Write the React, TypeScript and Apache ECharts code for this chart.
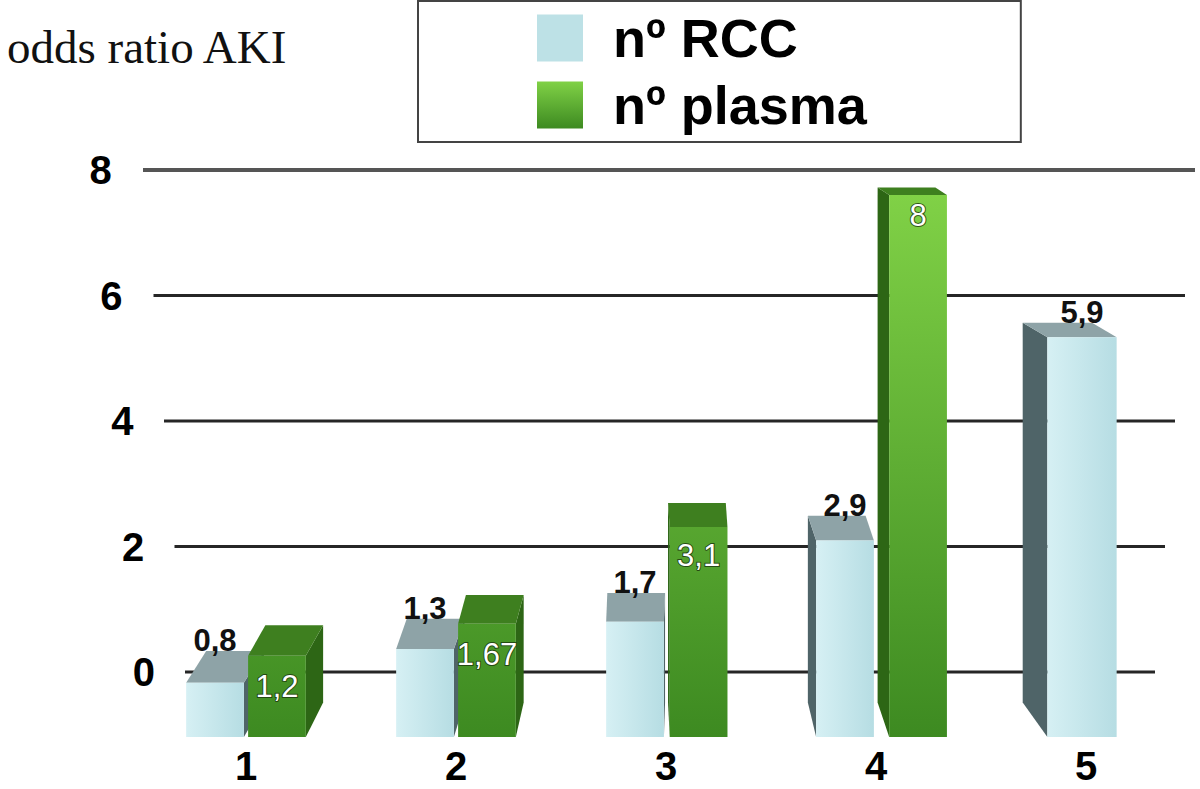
import React, { useEffect, useRef } from "react";
import * as echarts from "echarts";

const categories = ["1", "2", "3", "4", "5"];
const rccValues = [0.8, 1.3, 1.7, 2.9, 5.9];
const plasmaValues: (number | null)[] = [1.2, 1.67, 3.1, 8, null];
const yTicks = [0, 2, 4, 6, 8];
const seriesNames = ["nº RCC", "nº plasma"];
const yMin = 0;
const yMax = 8;
const yInterval = 2;
const titleText = "odds ratio AKI";

const fmt = (v: number) => String(v).replace(".", ",");

const SANS = '"Liberation Sans", Arial, Helvetica, sans-serif';
const SERIF = '"Liberation Serif", "Times New Roman", serif';

export default function App() {
  const ref = useRef<HTMLDivElement>(null);

  useEffect(() => {
    if (!ref.current) return;
    const chart = echarts.init(ref.current, null, { renderer: "svg" });

    const greenGlobal = (y0: number, y1: number) =>
      new echarts.graphic.LinearGradient(
        0, y0, 0, y1,
        [
          { offset: 0, color: "#80d146" },
          { offset: 1, color: "#3d8a21" },
        ],
        true
      );

    const makeBar = (isRcc: boolean) => (params: any, api: any) => {
      const i = api.value(0);
      const v = api.value(1);
      const top = api.coord([i, v]);
      const base = api.coord([i, 0]);
      const band = api.size([1, 0])[0];
      const cs = params.coordSys;
      const vpx = cs.x + cs.width * 0.495;
      const vpy = cs.y - 150;
      const single = plasmaValues[i] == null;
      const w = single ? band * 0.33 : band * 0.275;
      const gap = band * 0.02;
      const cx = top[0];
      let x0 = isRcc ? (single ? cx - w / 2 - 4 : cx - gap / 2 - w) : cx + gap / 2;
      let dx = (vpx - (x0 + w / 2)) * 0.045;
      if (single) dx *= 1.3;
      if (!isRcc && dx < 0) {
        x0 += -dx;
        dx = (vpx - (x0 + w / 2)) * 0.045;
      }
      const x1 = x0 + w;
      const yT = top[1];
      const yB = base[1];
      const mx = (x0 + x1) / 2;
      const dyT = (vpy - yT) * 0.05;
      const dyB = (vpy - yB) * 0.05;
      const leftOfVp = cx < vpx;
      const zBase = isRcc ? (leftOfVp ? 10 : 20) : leftOfVp ? 20 : 10;

      const frontFill = isRcc
        ? new echarts.graphic.LinearGradient(0, 0, 1, 0, [
            { offset: 0, color: "#d6f0f4" },
            { offset: 1, color: "#b6dde3" },
          ])
        : greenGlobal(cs.y, cs.y + cs.height);
      const topFill = isRcc ? "#8ea3a7" : "#3e7f1f";
      const sideFill = isRcc ? "#4f6468" : "#2d6615";

      const sideX = dx >= 0 ? x1 : x0;
      const children: any[] = [
        {
          type: "polygon",
          z2: zBase,
          shape: {
            points: [
              [sideX, yT],
              [sideX + dx, yT + dyT],
              [sideX + dx, yB + dyB],
              [sideX, yB],
            ],
          },
          style: { fill: sideFill },
        },
        {
          type: "polygon",
          z2: zBase + 1,
          shape: {
            points: [
              [x0, yT],
              [x1, yT],
              [x1 + dx, yT + dyT],
              [x0 + dx, yT + dyT],
            ],
          },
          style: { fill: topFill },
        },
        {
          type: "rect",
          z2: zBase + 2,
          shape: { x: x0, y: yT, width: w, height: yB - yT },
          style: { fill: frontFill },
        },
      ];
      if (isRcc) {
        children.push({
          type: "text",
          z2: 100,
          style: {
            text: fmt(v),
            x: mx,
            y: yT + dyT + 5,
            align: "center",
            verticalAlign: "bottom",
            font: `bold 31px ${SANS}`,
            fill: "#111",
          },
        });
      } else {
        children.push({
          type: "text",
          z2: 100,
          style: {
            text: fmt(v),
            x: mx,
            y: yT - 0.45 * dyT + 2,
            align: "center",
            verticalAlign: "top",
            font: `31px ${SANS}`,
            fill: "#ffffff",
            stroke: "rgba(30,60,15,0.85)",
            lineWidth: 2,
          },
        });
      }
      return { type: "group", children };
    };

    const rich: Record<string, any> = {};
    yTicks.forEach((t) => {
      rich["r" + t] = {
        fontSize: 40,
        fontWeight: "bold",
        color: "#000",
        fontFamily: SANS,
        padding: [0, 5.4 * t, 0, 0],
      };
    });

    const option: any = {
      animation: false,
      backgroundColor: "#ffffff",
      textStyle: { fontFamily: SANS },
      title: {
        text: titleText,
        left: 2,
        top: 18,
        textStyle: {
          fontFamily: SERIF,
          fontSize: 47,
          fontWeight: "normal",
          color: "#111",
        },
      },
      legend: {
        data: seriesNames,
        left: 418,
        top: 1,
        orient: "vertical",
        icon: "rect",
        itemWidth: 46,
        itemHeight: 47,
        itemGap: 13,
        padding: [10, 154, 10, 119],
        borderColor: "#444",
        borderWidth: 2,
        selectedMode: false,
        textStyle: {
          fontFamily: SANS,
          fontWeight: "bold",
          fontSize: 54,
          color: "#000",
          lineHeight: 47,
          padding: [0, 0, 0, 25],
        },
      },
      grid: [
        { left: 143, right: 5, top: 170, bottom: 117 },
        { left: 141, right: 9, top: 195, bottom: 52 },
      ],
      xAxis: [
        { gridIndex: 0, type: "value", min: 0, max: 1, show: false },
        {
          gridIndex: 1,
          type: "category",
          data: categories,
          axisLine: { show: false },
          axisTick: { show: false },
          axisLabel: {
            fontSize: 40,
            lineHeight: 36,
            fontWeight: "bold",
            color: "#000",
            fontFamily: SANS,
            margin: 11,
          },
        },
      ],
      yAxis: [
        {
          gridIndex: 0,
          type: "value",
          min: yMin,
          max: yMax,
          interval: yInterval,
          axisLine: { show: false },
          axisTick: { show: false },
          splitLine: { show: false },
          axisLabel: {
            margin: -12,
            formatter: (val: number) => `{r${val}|${val}}`,
            rich,
          },
        },
        { gridIndex: 1, type: "value", min: yMin, max: yMax, show: false },
      ],
      series: [
        {
          name: "wall",
          type: "custom",
          xAxisIndex: 0,
          yAxisIndex: 0,
          z: 1,
          silent: true,
          data: yTicks.map((t) => [0, t]),
          renderItem: (params: any, api: any) => {
            const t = api.value(1);
            const y = api.coord([0, t])[1];
            const cs = params.coordSys;
            const isTop = t === yMax;
            return {
              type: "line",
              shape: {
                x1: cs.x + 5.25 * (yMax - t),
                y1: y,
                x2: cs.x + cs.width - 5 * (yMax - t),
                y2: y,
              },
              style: {
                stroke: isTop ? "#555" : "#262626",
                lineWidth: isTop ? 4 : 3,
              },
            };
          },
        },
        {
          name: seriesNames[0],
          type: "custom",
          xAxisIndex: 1,
          yAxisIndex: 1,
          z: 2,
          itemStyle: { color: "#bde1e6" },
          data: rccValues.map((v, i) => [i, v]),
          renderItem: makeBar(true),
        },
        {
          name: seriesNames[1],
          type: "custom",
          xAxisIndex: 1,
          yAxisIndex: 1,
          z: 2,
          itemStyle: {
            color: new echarts.graphic.LinearGradient(0, 0, 0, 1, [
              { offset: 0, color: "#80d146" },
              { offset: 1, color: "#3d8a21" },
            ]),
          },
          data: plasmaValues
            .map((v, i) => (v == null ? null : [i, v]))
            .filter((d) => d != null),
          renderItem: makeBar(false),
        },
      ],
    };

    chart.setOption(option);
    return () => chart.dispose();
  }, []);

  return (
    <div
      ref={ref}
      style={{
        position: "absolute",
        left: 0,
        top: 0,
        width: 1200,
        height: 789,
        background: "#fff",
      }}
    />
  );
}
